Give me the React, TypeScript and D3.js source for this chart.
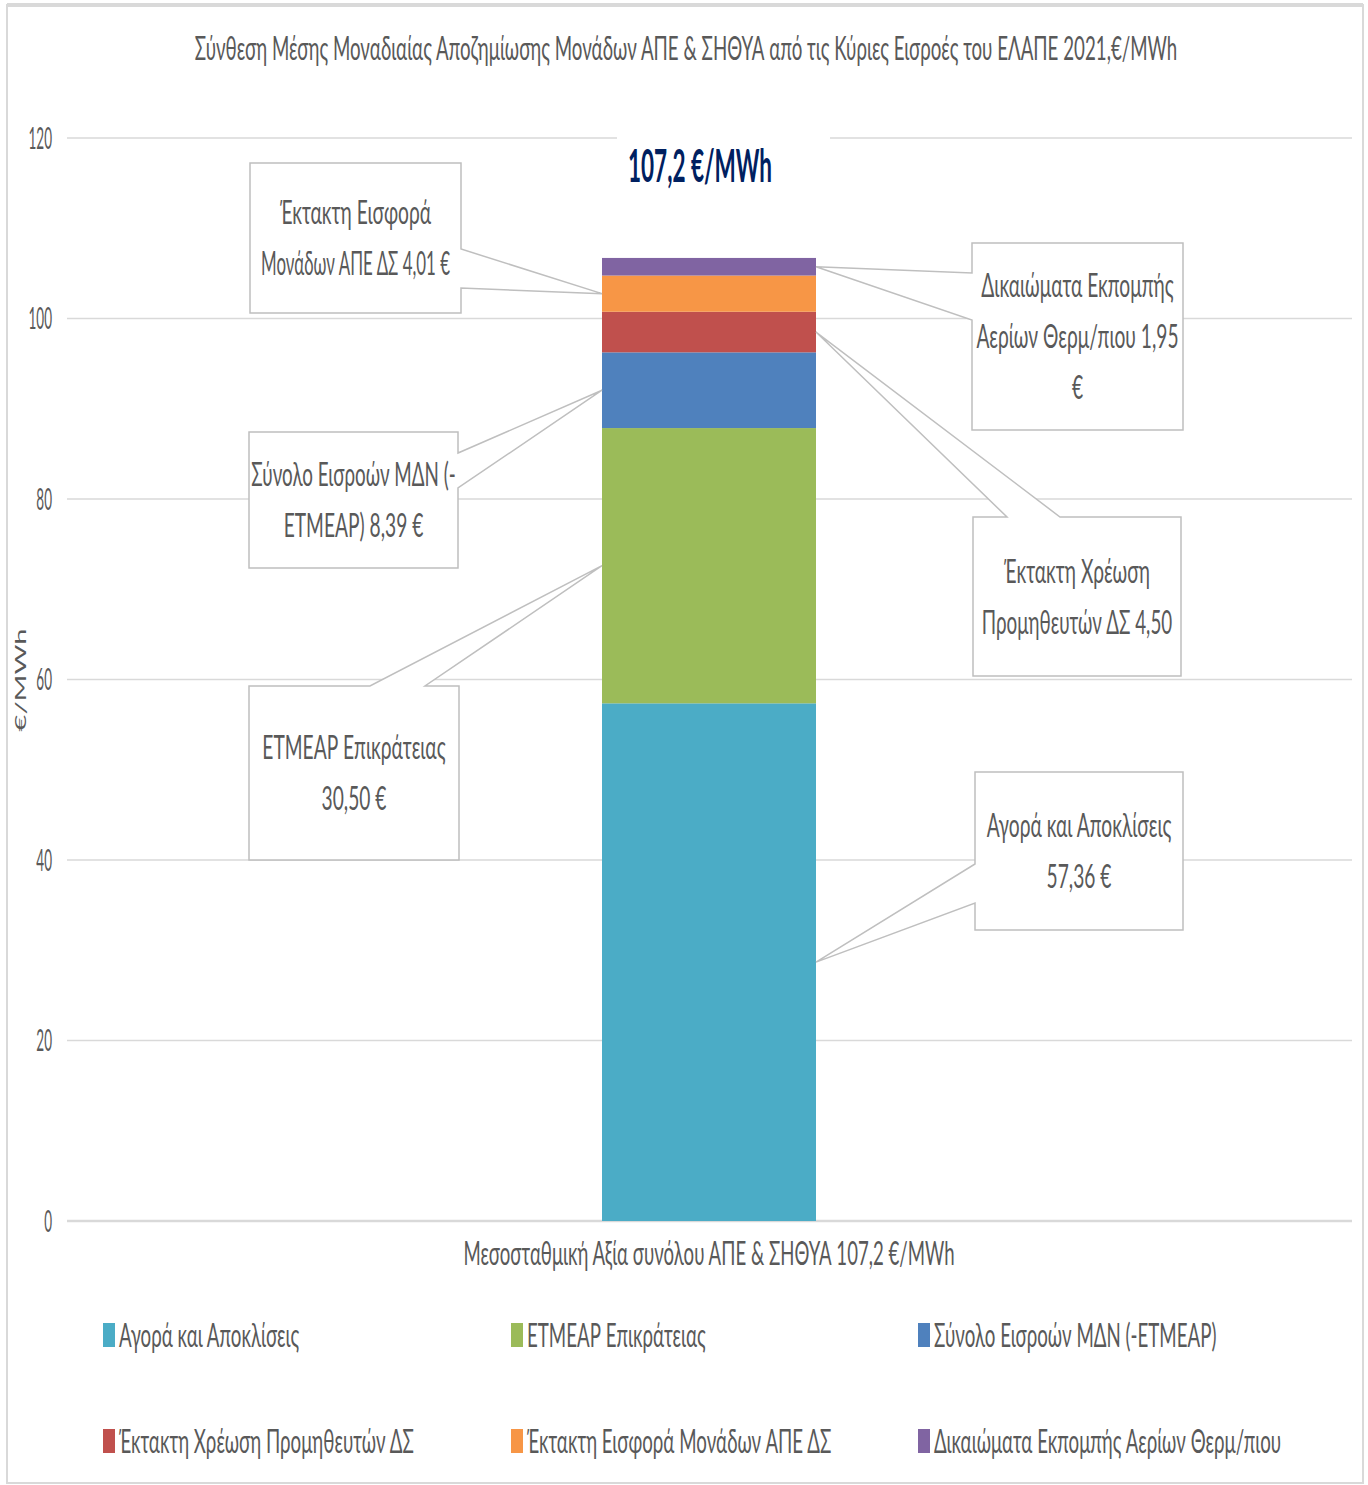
import React from "react";
import * as d3 from "d3";

const chartTitle = "Σύνθεση Μέσης Μοναδιαίας Αποζημίωσης Μονάδων ΑΠΕ & ΣΗΘΥΑ από τις Κύριες Εισροές του ΕΛΑΠΕ 2021,€/MWh";
const totalLabel = "107,2 €/MWh";
const yAxisTitle = "€/MWh";
const categories = ["Μεσοσταθμική Αξία συνόλου ΑΠΕ & ΣΗΘΥΑ 107,2 €/MWh"];
const seriesNames = [
  "Αγορά και Αποκλίσεις",
  "ΕΤΜΕΑΡ Επικράτειας",
  "Σύνολο Εισροών ΜΔΝ (-ΕΤΜΕΑΡ)",
  "Έκτακτη Χρέωση Προμηθευτών ΔΣ",
  "Έκτακτη Εισφορά Μονάδων ΑΠΕ ΔΣ",
  "Δικαιώματα Εκπομπής Αερίων Θερμ/πιου",
];
const seriesValues = [57.36, 30.5, 8.39, 4.5, 4.01, 1.95];
const seriesColors = ["#4BACC6", "#9BBB59", "#4F81BD", "#C0504D", "#F79646", "#8064A2"];
const calloutTexts = [
  ["Αγορά και Αποκλίσεις", "57,36 €"],
  ["ΕΤΜΕΑΡ Επικράτειας", "30,50 €"],
  ["Σύνολο Εισροών ΜΔΝ (-", "ΕΤΜΕΑΡ) 8,39 €"],
  ["Έκτακτη Χρέωση", "Προμηθευτών ΔΣ  4,50"],
  ["Έκτακτη Εισφορά", "Μονάδων ΑΠΕ ΔΣ 4,01 €"],
  ["Δικαιώματα Εκπομπής", "Αερίων Θερμ/πιου 1,95", "€"],
];
const yTicks = [0, 20, 40, 60, 80, 100, 120];

// layout (positions/styles)
const FONT = "Lato, 'Open Sans', sans-serif";
const SX = 0.59;
const TXT = "#595959";
const GRID = "#D9D9D9";
const plot = { left: 67, right: 1352, top: 138, bottom: 1221 };
const barX0 = 602;
const barX1 = 816;
// callout boxes: side where wedge attaches, and base points of wedge; optional per-line squeeze
const calloutLayout = [
  { x: 975, y: 772, w: 208, h: 158, side: "left", b0: 864, b1: 903, sq: [1, 1] },
  { x: 249, y: 686, w: 210, h: 174, side: "top", b0: 370, b1: 425, sq: [1, 1] },
  { x: 249, y: 432, w: 209, h: 136, side: "right", b0: 453, b1: 488, sq: [0.98, 1] },
  { x: 973, y: 517, w: 208, h: 159, side: "top", b0: 1007, b1: 1060, sq: [1, 0.98] },
  { x: 250, y: 163, w: 211, h: 150, side: "right", b0: 249, b1: 288, sq: [1, 0.88] },
  { x: 972, y: 243, w: 211, h: 187, side: "left", b0: 273, b1: 320, sq: [1, 1, 1] },
];
const legendCols = [103, 511, 918];
const legendRows = [1335, 1441];

function T({ x, y, size, text, anchor = "start", fill = TXT, weight = 400, sx = SX }: any) {
  return (
    <g transform={`translate(${x},${y}) scale(${sx},1)`}>
      <text
        x={0}
        y={0}
        dy="0.36em"
        fontSize={size}
        fontFamily={FONT}
        fontWeight={weight}
        fill={fill}
        textAnchor={anchor}
      >
        {text}
      </text>
    </g>
  );
}

export default function App() {
  const y = d3.scaleLinear().domain([0, 120]).range([plot.bottom, plot.top]);
  const x = d3.scaleBand().domain(categories).range([plot.left, plot.right]).paddingInner(0);
  const stack = d3.stack<any>().keys(seriesNames)([
    Object.fromEntries(seriesNames.map((n, i) => [n, seriesValues[i]])),
  ]);
  const bandCenter = (x(categories[0]) as number) + x.bandwidth() / 2;

  const calloutPath = (i: number) => {
    const L = calloutLayout[i];
    const seg = stack[i][0];
    const ty = y((seg[0] + seg[1]) / 2);
    const tx = L.x + L.w / 2 < bandCenter ? barX0 : barX1;
    const { x: bx, y: by, w, h, b0, b1 } = L;
    if (L.side === "right")
      return `M${bx},${by}H${bx + w}V${b0}L${tx},${ty}L${bx + w},${b1}V${by + h}H${bx}Z`;
    if (L.side === "left")
      return `M${bx},${by}H${bx + w}V${by + h}H${bx}V${b1}L${tx},${ty}L${bx},${b0}Z`;
    return `M${bx},${by}H${b0}L${tx},${ty}L${b1},${by}H${bx + w}V${by + h}H${bx}Z`;
  };

  return (
    <svg
      width={1368}
      height={1485}
      style={{ position: "absolute", left: 0, top: 0, background: "#fff" }}
    >
      <rect x={0} y={0} width={1368} height={1485} fill="#fff" />
      <rect x={7} y={5} width={1356} height={1478} fill="none" stroke={GRID} strokeWidth={2} />
      <line x1={7} x2={1363} y1={5} y2={5} stroke={GRID} strokeWidth={4} />

      <T x={686} y={48} size={32} text={chartTitle} anchor="middle" sx={0.585} />

      {yTicks.map((t) => (
        <g key={t}>
          <line
            x1={plot.left}
            x2={plot.right}
            y1={y(t)}
            y2={y(t)}
            stroke={GRID}
            strokeWidth={t === 0 ? 2.5 : 1.5}
          />
          <T x={52} y={y(t)} size={30} text={String(t)} anchor="end" sx={0.45} />
        </g>
      ))}

      <g transform={`translate(20,680) scale(0.55,1) rotate(-90)`}>
        <text x={0} y={0} dy="0.36em" fontSize={29} fontFamily={FONT} fill={TXT} textAnchor="middle">
          {yAxisTitle}
        </text>
      </g>

      {stack.map((s, i) => (
        <rect
          key={i}
          x={barX0}
          width={barX1 - barX0}
          y={y(s[0][1])}
          height={y(s[0][0]) - y(s[0][1])}
          fill={seriesColors[i]}
        />
      ))}

      <rect x={617} y={128} width={213} height={70} fill="#fff" />
      <T x={700} y={165} size={46} text={totalLabel} anchor="middle" fill="#002060" weight={700} sx={0.49} />

      {calloutLayout.map((L, i) => {
        const lines = calloutTexts[i];
        const lh = 51;
        const cy = L.y + L.h / 2;
        const start = cy - ((lines.length - 1) * lh) / 2;
        return (
          <g key={i}>
            <path d={calloutPath(i)} fill="#fff" stroke="#BFBFBF" strokeWidth={1.5} />
            {lines.map((ln, j) => (
              <T
                key={j}
                x={L.x + L.w / 2}
                y={start + j * lh}
                size={32}
                text={ln}
                anchor="middle"
                sx={0.6 * L.sq[j]}
              />
            ))}
          </g>
        );
      })}

      <T x={709} y={1253} size={32} text={categories[0]} anchor="middle" sx={0.582} />

      {seriesNames.map((n, i) => {
        const cx = legendCols[i % 3];
        const cy = legendRows[Math.floor(i / 3)];
        return (
          <g key={n}>
            <rect x={cx} y={cy - 12} width={12} height={24} fill={seriesColors[i]} />
            <T x={cx + 16} y={cy} size={32} text={n} sx={0.585} />
          </g>
        );
      })}
    </svg>
  );
}
